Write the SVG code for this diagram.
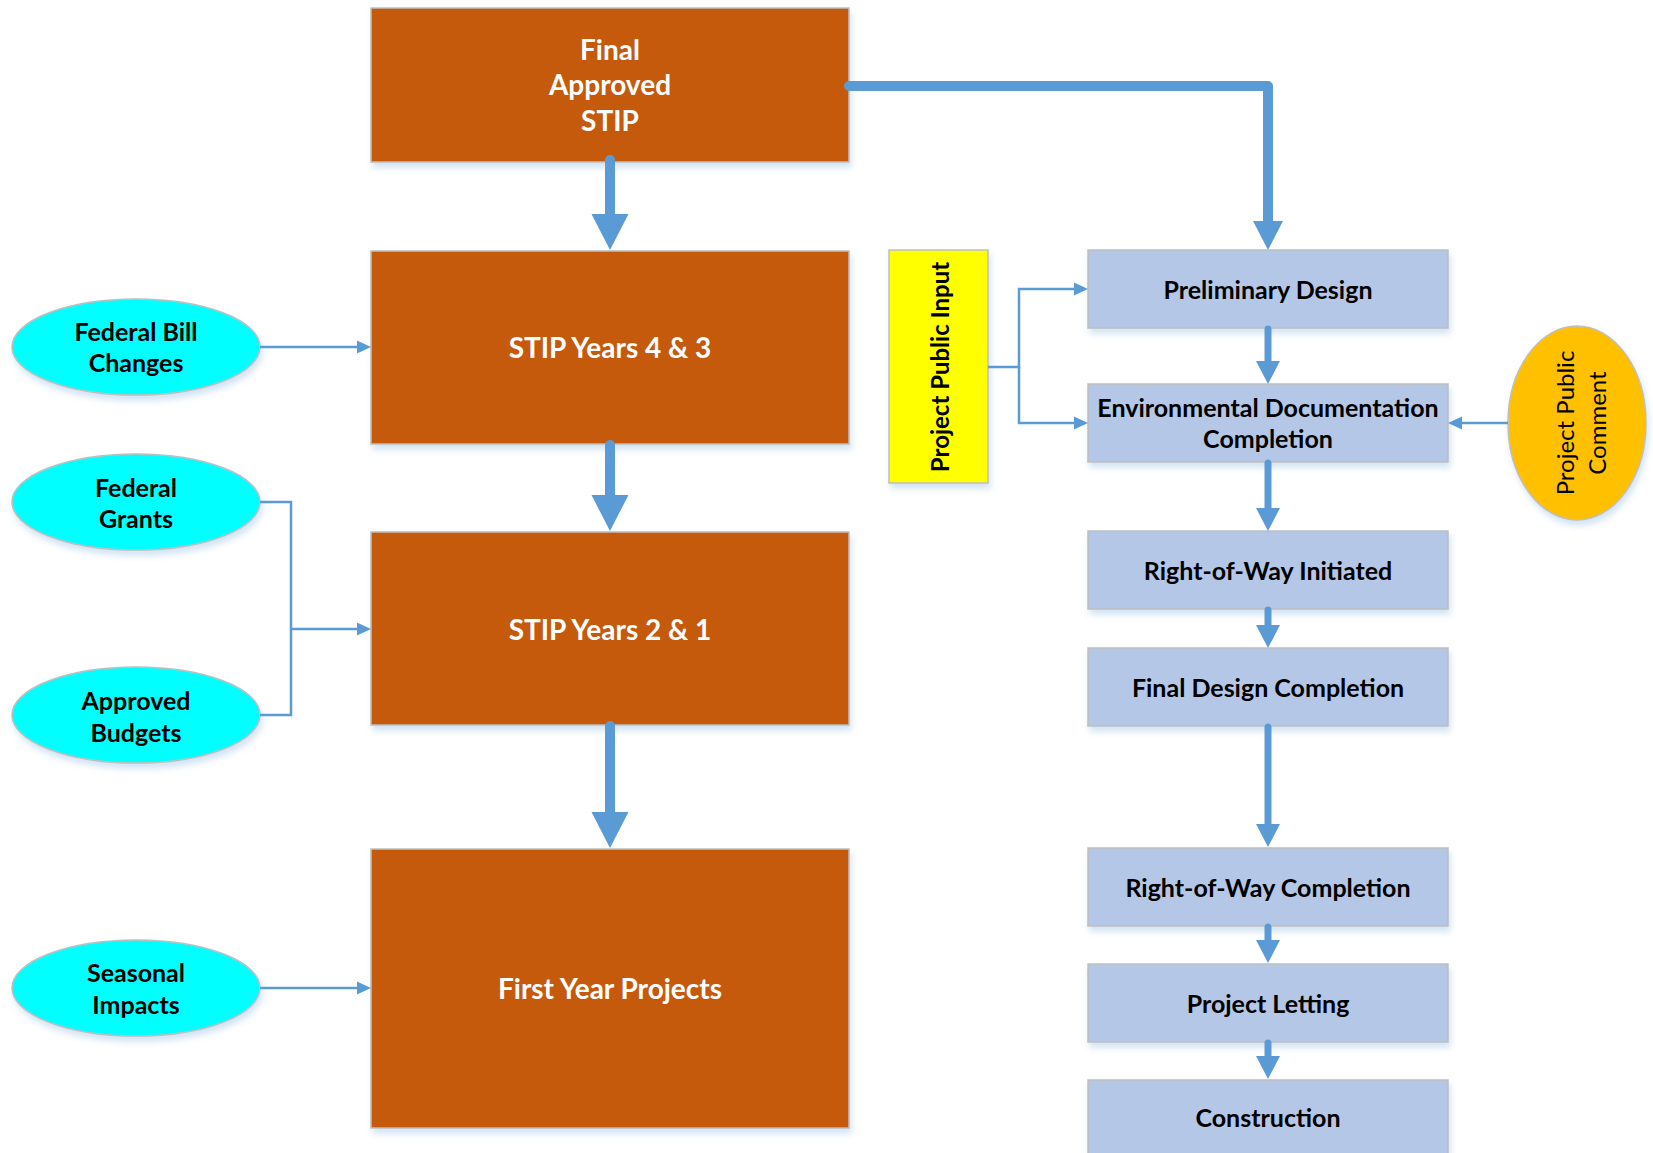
<svg xmlns="http://www.w3.org/2000/svg" width="1653" height="1153" viewBox="0 0 1653 1153">
<style>
.orange{fill:#C55A11;stroke:#BFBFBF;stroke-width:1.5}
.blue{fill:#B4C7E7;stroke:#BFBFBF;stroke-width:1.5}
.cyan{fill:#00FFFF;stroke:#BFBFBF;stroke-width:1.5}
.yellow{fill:#FFFF00;stroke:#BFBFBF;stroke-width:1.5}
.gold{fill:#FFC000;stroke:#BFBFBF;stroke-width:1.5}
text{font-family:Lato,"Open Sans","Liberation Sans",sans-serif;font-weight:bold;text-anchor:middle;dominant-baseline:central}
.wt{fill:#FFFFFF;font-size:28px}
.bt{fill:#000000;font-size:25px}
.pt{fill:#000000;font-size:24px}
.ct{fill:#000000;font-size:25px}
.nt{fill:#000000;font-size:24px;font-weight:normal}
.conn path{fill:none;stroke:#5B9BD5;stroke-linecap:round;stroke-linejoin:round}
.big{stroke-width:10}
.mid{stroke-width:10}
.col{stroke-width:7}
.thin{stroke-width:2.5}
</style>
<defs>
<filter id="sh" x="-10%" y="-10%" width="125%" height="130%">
<feDropShadow dx="2" dy="5" stdDeviation="3" flood-color="#9DC3E6" flood-opacity="0.45"/>
</filter>
<marker id="mBig" markerUnits="userSpaceOnUse" viewBox="0 -20 40 40" markerWidth="40" markerHeight="40" refX="0" refY="0" orient="auto"><path d="M0,-18.5 L36,0 L0,18.5 z" fill="#5B9BD5"/></marker>
<marker id="mMid" markerUnits="userSpaceOnUse" viewBox="0 -16 32 32" markerWidth="32" markerHeight="32" refX="0" refY="0" orient="auto"><path d="M0,-15 L29,0 L0,15 z" fill="#5B9BD5"/></marker>
<marker id="mCol" markerUnits="userSpaceOnUse" viewBox="0 -13 26 26" markerWidth="26" markerHeight="26" refX="0" refY="0" orient="auto"><path d="M0,-12 L23,0 L0,12 z" fill="#5B9BD5"/></marker>
<marker id="mThin" markerUnits="userSpaceOnUse" viewBox="0 -8 16 16" markerWidth="16" markerHeight="16" refX="0" refY="0" orient="auto"><path d="M0,-6.5 L14,0 L0,6.5 z" fill="#5B9BD5"/></marker>
</defs>
<rect width="1653" height="1153" fill="#FFFFFF"/>

<g id="final-approved-stip"><rect class="orange" x="371" y="8" width="478" height="154" filter="url(#sh)"/>
<text class="wt" x="610" y="49">Final</text><text class="wt" x="610" y="84">Approved</text><text class="wt" x="610" y="120">STIP</text></g>
<g id="stip-years-4-3"><rect class="orange" x="371" y="251" width="478" height="193" filter="url(#sh)"/><text class="wt" x="610" y="347">STIP Years 4 &amp; 3</text></g>
<g id="stip-years-2-1"><rect class="orange" x="371" y="532" width="478" height="193" filter="url(#sh)"/><text class="wt" x="610" y="629">STIP Years 2 &amp; 1</text></g>
<g id="first-year-projects"><rect class="orange" x="371" y="849" width="478" height="279" filter="url(#sh)"/><text class="wt" x="610" y="988">First Year Projects</text></g>

<g id="federal-bill-changes"><ellipse class="cyan" cx="136" cy="347" rx="124" ry="48" filter="url(#sh)"/><text class="ct" x="136" y="331">Federal Bill</text><text class="ct" x="136" y="362">Changes</text></g>
<g id="federal-grants"><ellipse class="cyan" cx="136" cy="502" rx="124" ry="48" filter="url(#sh)"/><text class="ct" x="136" y="487">Federal</text><text class="ct" x="136" y="518">Grants</text></g>
<g id="approved-budgets"><ellipse class="cyan" cx="136" cy="715" rx="124" ry="48" filter="url(#sh)"/><text class="ct" x="136" y="700">Approved</text><text class="ct" x="136" y="732">Budgets</text></g>
<g id="seasonal-impacts"><ellipse class="cyan" cx="136" cy="988" rx="124" ry="48" filter="url(#sh)"/><text class="ct" x="136" y="972">Seasonal</text><text class="ct" x="136" y="1004">Impacts</text></g>

<g id="project-public-input"><rect class="yellow" x="889" y="250" width="99" height="233" filter="url(#sh)"/><text class="pt" transform="translate(939,367) rotate(-90)" x="0" y="0">Project Public Input</text></g>
<g id="project-public-comment"><ellipse class="gold" cx="1577" cy="423" rx="69" ry="97" filter="url(#sh)"/><text class="nt" transform="translate(1564,423) rotate(-90)" x="0" y="0">Project Public</text><text class="nt" transform="translate(1596,423) rotate(-90)" x="0" y="0">Comment</text></g>

<g id="preliminary-design"><rect class="blue" x="1088" y="250" width="360" height="78" filter="url(#sh)"/><text class="bt" x="1268" y="289">Preliminary Design</text></g>
<g id="environmental-documentation-completion"><rect class="blue" x="1088" y="384" width="360" height="78" filter="url(#sh)"/><text class="bt" x="1268" y="407">Environmental Documentation</text><text class="bt" x="1268" y="438">Completion</text></g>
<g id="right-of-way-initiated"><rect class="blue" x="1088" y="531" width="360" height="78" filter="url(#sh)"/><text class="bt" x="1268" y="570">Right-of-Way Initiated</text></g>
<g id="final-design-completion"><rect class="blue" x="1088" y="648" width="360" height="78" filter="url(#sh)"/><text class="bt" x="1268" y="687">Final Design Completion</text></g>
<g id="right-of-way-completion"><rect class="blue" x="1088" y="848" width="360" height="78" filter="url(#sh)"/><text class="bt" x="1268" y="887">Right-of-Way Completion</text></g>
<g id="project-letting"><rect class="blue" x="1088" y="964" width="360" height="78" filter="url(#sh)"/><text class="bt" x="1268" y="1003">Project Letting</text></g>
<g id="construction"><rect class="blue" x="1088" y="1080" width="360" height="90" filter="url(#sh)"/><text class="bt" x="1268" y="1117">Construction</text></g>

<g id="connectors" class="conn">
<path class="big" d="M610,160 V214" marker-end="url(#mBig)"/>
<path class="big" d="M610,445 V495" marker-end="url(#mBig)"/>
<path class="big" d="M610,726 V812" marker-end="url(#mBig)"/>
<path class="mid" d="M849,86 H1268 V221" marker-end="url(#mMid)"/>
<path class="col" d="M1268,329 V361" marker-end="url(#mCol)"/>
<path class="col" d="M1268,463 V508" marker-end="url(#mCol)"/>
<path class="col" d="M1268,610 V625" marker-end="url(#mCol)"/>
<path class="col" d="M1268,727 V824" marker-end="url(#mCol)"/>
<path class="col" d="M1268,927 V940" marker-end="url(#mCol)"/>
<path class="col" d="M1268,1043 V1056" marker-end="url(#mCol)"/>
<path class="thin" style="stroke-linecap:butt" d="M260,347 H357" marker-end="url(#mThin)"/>
<path class="thin" style="stroke-linecap:butt;stroke-linejoin:miter" d="M260,502 H291 V715 H260"/>
<path class="thin" style="stroke-linecap:butt" d="M291,629 H357" marker-end="url(#mThin)"/>
<path class="thin" style="stroke-linecap:butt" d="M260,988 H357" marker-end="url(#mThin)"/>
<path class="thin" style="stroke-linecap:butt;stroke-linejoin:miter" d="M988,367 H1019 V289 H1074" marker-end="url(#mThin)"/>
<path class="thin" style="stroke-linecap:butt;stroke-linejoin:miter" d="M1019,367 V423 H1074" marker-end="url(#mThin)"/>
<path class="thin" style="stroke-linecap:butt" d="M1508,423 H1462" marker-end="url(#mThin)"/>
</g>
</svg>
